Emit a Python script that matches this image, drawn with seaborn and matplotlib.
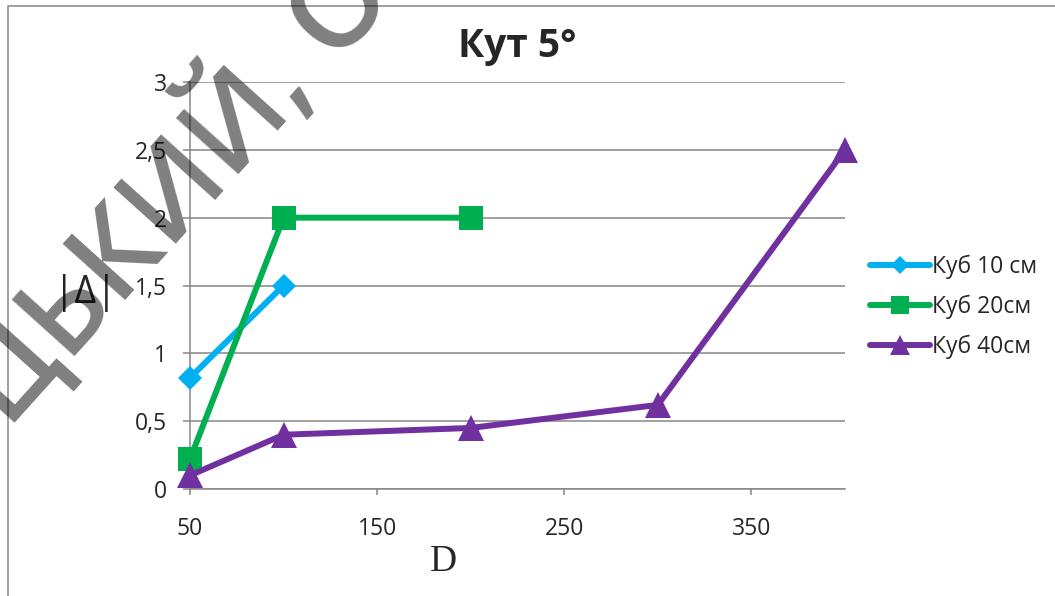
import matplotlib
matplotlib.use("Agg")
import matplotlib.pyplot as plt
import matplotlib.patches as mpatches
import seaborn as sns
import pandas as pd

# Series: distance D and |Δ| for each cube size
d_10 = [50, 100]
v_10 = [0.82, 1.5]
d_20 = [50, 100, 200]
v_20 = [0.22, 2.0, 2.0]
d_40 = [50, 100, 200, 300, 400]
v_40 = [0.1, 0.4, 0.45, 0.62, 2.5]

series_names = ["Куб 10 см", "Куб 20см", "Куб 40см"]
x_ticks = [50, 150, 250, 350]
y_ticks = [0, 0.5, 1, 1.5, 2, 2.5, 3]
y_tick_labels = ["0", "0,5", "1", "1,5", "2", "2,5", "3"]

title_text = "Кут 5°"
x_label = "D"
y_label = "|Δ|"
watermark = "ЦЬКИЙ, О"

sns.set_style("white")
plt.rcParams["font.family"] = ["Open Sans", "DejaVu Sans"]

W, H = 1055, 596
fig = plt.figure(figsize=(W / 100, H / 100), dpi=100)
ax = fig.add_axes([190 / W, 1 - 489 / H, (845 - 190) / W, (489 - 82) / H])

grid_c = "#868686"
styles = [
    (d_10, v_10, "#00B0F0", "D", 12.5),
    (d_20, v_20, "#00B050", "s", 17.5),
    (d_40, v_40, "#7030A0", "^", 18.5),
]
for (xs, ys, col, mk, ms), name in zip(styles, series_names):
    df = pd.DataFrame({"D": xs, "delta": ys})
    sns.lineplot(data=df, x="D", y="delta", ax=ax, color=col, linewidth=4.3,
                 marker=mk, markersize=ms, markeredgecolor=col,
                 markeredgewidth=0, clip_on=False, label=name, zorder=3)

ax.set_xlim(50, 400)
ax.set_ylim(0, 3)
ax.set_xticks(x_ticks)
ax.set_xticklabels([str(t) for t in x_ticks])
ax.set_yticks(y_ticks)
ax.set_yticklabels(y_tick_labels)
ax.set_xlabel("")
ax.set_ylabel("")

ax.yaxis.grid(True, color=grid_c, linewidth=1.1)
ax.xaxis.grid(False)
ax.set_axisbelow(True)
for side in ("top", "right"):
    ax.spines[side].set_visible(False)
for side in ("left", "bottom"):
    ax.spines[side].set_color(grid_c)
    ax.spines[side].set_linewidth(1.1)
ax.tick_params(axis="y", direction="out", length=5, width=1.1, color=grid_c,
               pad=11.5, labelsize=16.5, left=True)
ax.tick_params(axis="x", direction="out", length=4.5, width=1.1, color=grid_c,
               pad=16, labelsize=16.5, bottom=True)

leg = ax.legend(loc="center left", bbox_to_anchor=(870 / W, 1 - 307 / H),
                bbox_transform=fig.transFigure, frameon=False, fontsize=16.5,
                handlelength=2.6, handletextpad=0.12, labelspacing=0.67,
                borderpad=0, borderaxespad=0, markerscale=0.75)

fig.text(517.5 / W, 1 - 57 / H, title_text, ha="center", va="baseline",
         fontsize=28, fontweight="bold")
fig.text(443 / W, 1 - 571 / H, x_label, ha="center", va="baseline",
         fontsize=27, family=["Liberation Serif", "DejaVu Serif"])
fig.text(85 / W, 1 - 303 / H, y_label, ha="center", va="baseline", fontsize=27)

# chart area border
fig.patches.append(mpatches.Rectangle((8 / W, -0.2), 1.2, 1.2 - 6 / H,
                                      transform=fig.transFigure, fill=False,
                                      edgecolor=grid_c, linewidth=1.1))

fig.text(174 / W, 1 - 188 / H, watermark, rotation=48, rotation_mode="anchor",
         ha="center", va="center", fontsize=85, fontweight="semibold",
         color="black", alpha=0.5, zorder=10)

fig.savefig("out.png", dpi=100)
